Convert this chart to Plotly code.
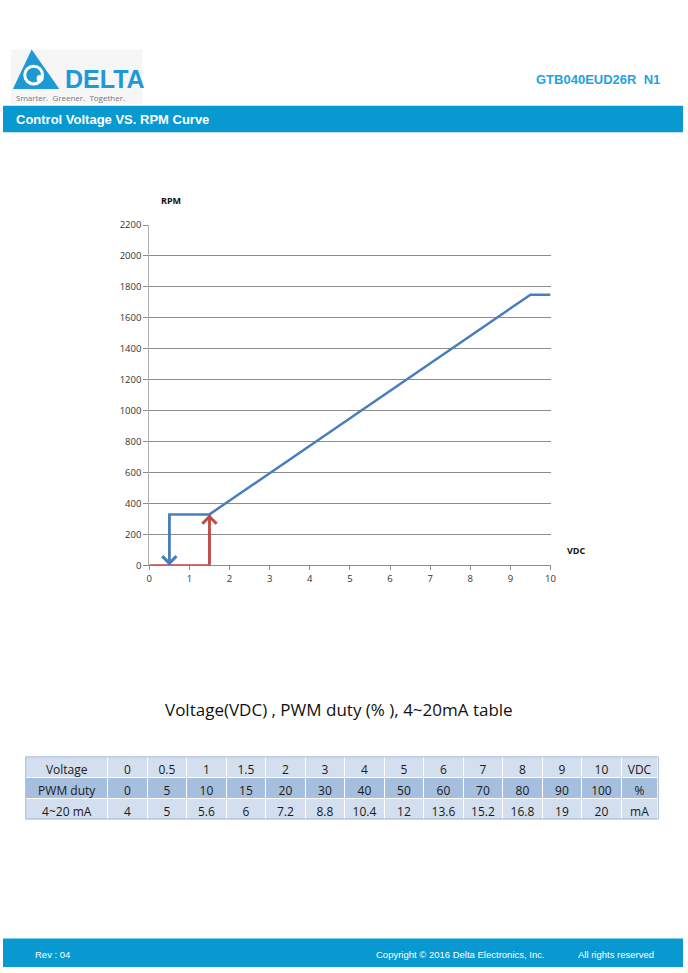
import plotly.graph_objects as go

W, H = 688, 973

# curve data
vdc_curve = [0.5, 0.5, 1.5, 9.5, 10]
rpm_curve = [0, 330, 330, 1750, 1750]
vdc_start = [0, 1.5, 1.5]
rpm_start = [0, 0, 330]

# table data
voltage = ["0", "0.5", "1", "1.5", "2", "3", "4", "5", "6", "7", "8", "9", "10"]
pwm_duty = ["0", "5", "10", "15", "20", "30", "40", "50", "60", "70", "80", "90", "100"]
ma_4_20 = ["4", "5", "5.6", "6", "7.2", "8.8", "10.4", "12", "13.6", "15.2", "16.8", "19", "20"]

BLUE = "#4a7ebb"
RED = "#be4b48"
BAR = "#0799cf"


def px(x):
    return x / W


def py(y):
    return 1 - y / H


fig = go.Figure()

fig.add_trace(go.Scatter(x=vdc_start, y=rpm_start, mode="lines",
                         line=dict(color=RED, width=2.5), cliponaxis=False,
                         hoverinfo="skip", showlegend=False))
fig.add_trace(go.Scatter(x=vdc_curve, y=rpm_curve, mode="lines",
                         line=dict(color=BLUE, width=2.5), cliponaxis=False,
                         hoverinfo="skip", showlegend=False))

# arrow heads on the two vertical segments
fig.add_annotation(x=vdc_curve[0], y=rpm_curve[0], ax=vdc_curve[1], ay=rpm_curve[1],
                   xref="x", yref="y", axref="x", ayref="y", text="", showarrow=True,
                   arrowhead=4, arrowsize=1.1, arrowwidth=2.5, arrowcolor=BLUE)
fig.add_annotation(x=vdc_start[2], y=rpm_start[2], ax=vdc_start[1], ay=rpm_start[1],
                   xref="x", yref="y", axref="x", ayref="y", text="", showarrow=True,
                   arrowhead=4, arrowsize=1.1, arrowwidth=2.5, arrowcolor=RED)

tick_font = dict(family="Open Sans", size=9.5, color="#333")
fig.update_xaxes(domain=[px(148), px(554)], range=[0, 10], dtick=1,
                 showline=True, linecolor="#8c8c8c", linewidth=1,
                 ticks="outside", ticklen=4, tickcolor="#8c8c8c",
                 showgrid=False, zeroline=False, layer="below traces",
                 tickfont=tick_font)
fig.update_yaxes(domain=[py(566), py(221)], range=[0, 2200], dtick=200,
                 showline=True, linecolor="#b0b0b0", linewidth=1,
                 ticks="outside", ticklen=5, tickcolor="#8c8c8c",
                 showgrid=True, gridcolor="#8c8c8c", gridwidth=1,
                 zeroline=False, layer="below traces", tickfont=tick_font)

# table
cols = [["Voltage"] + voltage + ["VDC"]]
cell_vals = [[p, m] for p, m in zip(["PWM duty"] + pwm_duty + ["%"],
                                    ["4~20 mA"] + ma_4_20 + ["mA"])]
fill = [["#a7bfde", "#d3dfee"] for _ in cell_vals]
fig.add_trace(go.Table(
    domain=dict(x=[px(23), px(663)], y=[py(824), py(760)]),
    columnwidth=[83] + [40] * 13 + [37],
    header=dict(values=cols[0], height=21, fill_color="#d3dfee",
                line=dict(color="white", width=1), align="center",
                font=dict(family="Open Sans", size=12, color="#1a1a1a")),
    cells=dict(values=cell_vals, height=21, fill=dict(color=fill),
               line=dict(color="white", width=1), align="center",
               font=dict(family="Open Sans", size=12, color="#1a1a1a")),
))

shapes = [
    # logo background
    dict(type="rect", xref="paper", yref="paper", x0=px(8), x1=px(141), y0=py(98), y1=py(43),
         fillcolor="#f6f6f6", line_width=0, layer="below"),
    # logo triangle
    dict(type="path", xref="paper", yref="paper",
         path=f"M {px(10)},{py(83)} L {px(29)},{py(43)} L {px(57)},{py(83)} Z",
         fillcolor="#1d9ad6", line_width=0),
    dict(type="circle", xref="paper", yref="paper", x0=px(22), x1=px(40), y0=py(78), y1=py(60),
         line=dict(color="white", width=3)),
    dict(type="circle", xref="paper", yref="paper", x0=px(34), x1=px(41), y0=py(76), y1=py(69),
         fillcolor="white", line_width=0),
    # header bar
    dict(type="rect", xref="paper", yref="paper", x0=0, x1=1, y0=py(127), y1=py(100),
         fillcolor=BAR, line_width=0),
    # footer bar
    dict(type="rect", xref="paper", yref="paper", x0=0, x1=1, y0=0, y1=py(944),
         fillcolor=BAR, line_width=0),
    # table outline
    dict(type="rect", xref="paper", yref="paper", x0=px(23), x1=px(663), y0=py(823), y1=py(760),
         line=dict(color="#9fb8d8", width=1)),
]

ann = [
    dict(x=px(61), y=py(73), text="<b>DELTA</b>", xanchor="left", yanchor="middle",
         font=dict(family="Liberation Sans", size=25, color="#1d9ad6")),
    dict(x=px(11), y=py(92), text="Smarter.  Greener.  Together.", xanchor="left", yanchor="middle",
         font=dict(family="Open Sans", size=8, color="#777")),
    dict(x=px(667), y=py(73), text="<b>GTB040EUD26R  N1</b>", xanchor="right", yanchor="middle",
         font=dict(family="Liberation Sans", size=13, color="#1ea4df")),
    dict(x=px(11), y=py(114), text="<b>Control Voltage VS. RPM Curve</b>", xanchor="left",
         yanchor="middle", font=dict(family="Liberation Sans", size=13, color="white")),
    dict(x=px(170), y=py(196), text="<b>RPM</b>", xanchor="center", yanchor="middle",
         font=dict(family="Open Sans", size=9, color="#111")),
    dict(x=px(580), y=py(551), text="<b>VDC</b>", xanchor="center", yanchor="middle",
         font=dict(family="Open Sans", size=9, color="#111")),
    dict(x=px(340), y=py(712), text="Voltage(VDC) , PWM duty (% ), 4~20mA table",
         xanchor="center", yanchor="middle",
         font=dict(family="Open Sans", size=17, color="#111")),
    dict(x=px(30), y=py(960), text="Rev : 04", xanchor="left", yanchor="middle",
         font=dict(family="Liberation Sans", size=9.5, color="white")),
    dict(x=px(375), y=py(960), text="Copyright © 2016 Delta Electronics, Inc.", xanchor="left",
         yanchor="middle", font=dict(family="Liberation Sans", size=9.5, color="white")),
    dict(x=px(661), y=py(960), text="All rights reserved", xanchor="right",
         yanchor="middle", font=dict(family="Liberation Sans", size=9.5, color="white")),
]
for a in ann:
    fig.add_annotation(xref="paper", yref="paper", showarrow=False, **a)

fig.update_layout(width=W, height=H, margin=dict(l=0, r=0, t=0, b=0), autosize=False,
                  paper_bgcolor="white", plot_bgcolor="white", shapes=shapes,
                  showlegend=False)

# default body margin would push the figure off the window
fig.write_html("out.html", config={"displayModeBar": False},
               post_script="document.body.style.margin='0';document.body.style.overflow='hidden';")
